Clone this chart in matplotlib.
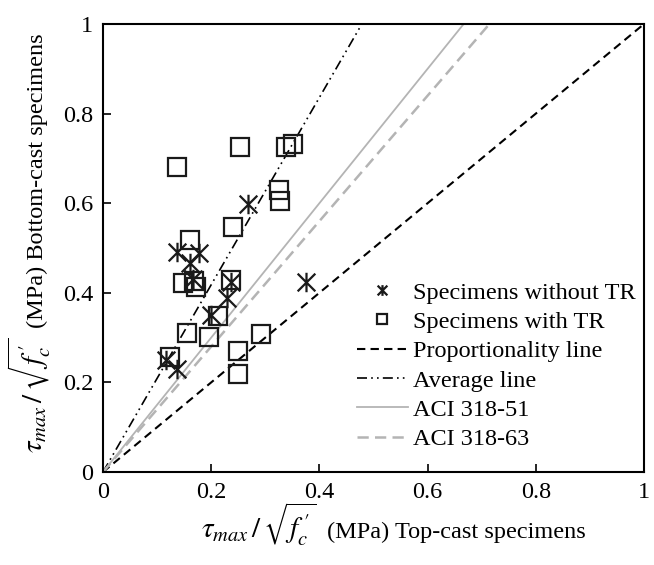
import matplotlib
matplotlib.use('Agg')
import matplotlib.pyplot as plt
from matplotlib.path import Path
import numpy as np

# --- Data ---
# specimens without transverse reinforcement (top-cast, bottom-cast)
without_tr_x = [0.268, 0.136, 0.177, 0.161, 0.166, 0.236, 0.230, 0.376, 0.200, 0.117, 0.136]
without_tr_y = [0.598, 0.491, 0.488, 0.466, 0.430, 0.424, 0.388, 0.423, 0.351, 0.250, 0.231]

# specimens with transverse reinforcement
with_tr_x = [0.137, 0.253, 0.338, 0.352, 0.325, 0.328, 0.241, 0.161, 0.148, 0.169,
             0.171, 0.237, 0.212, 0.156, 0.196, 0.292, 0.249, 0.249, 0.123]
with_tr_y = [0.681, 0.726, 0.726, 0.732, 0.629, 0.606, 0.547, 0.518, 0.421, 0.426,
             0.414, 0.428, 0.348, 0.311, 0.301, 0.308, 0.271, 0.218, 0.257]

# reference lines: bottom-cast / top-cast ratio
line_names = ['Proportionality line', 'Average line', 'ACI 318-51', 'ACI 318-63']
line_slopes = [1.0, 2.09, 1.5, 1.4]

ticks = [0, 0.2, 0.4, 0.6, 0.8, 1]
tick_labels = ['0', '0.2', '0.4', '0.6', '0.8', '1']

label_math = r'$\tau_{max}\,/\,\sqrt{f^{\,\prime}_{c}}$'
xlabel_text = '(MPa) Top-cast specimens'
ylabel_text = '(MPa) Bottom-cast specimens'

# --- Style ---
plt.rcParams['font.family'] = ['Liberation Serif', 'DejaVu Serif']
plt.rcParams['mathtext.fontset'] = 'stix'
FS = 17.5
FS_MATH = 21

line_styles = [
    dict(color='black', lw=1.5, ls=(0, (4, 2.5))),
    dict(color='black', lw=1.2, ls=(0, (6, 2.5, 1, 2.5, 1, 2.5))),
    dict(color='#b4b4b4', lw=1.3, ls='-'),
    dict(color='#b4b4b4', lw=1.8, ls=(0, (4.5, 2.5))),
]

# star marker: an X with a vertical bar
star = Path([(-1, -1), (1, 1), (-1, 1), (1, -1), (0, -1.1), (0, 1.1)],
            [Path.MOVETO, Path.LINETO] * 3)

W, H = 654, 565
fig = plt.figure(figsize=(W / 100, H / 100), dpi=100)
ax = fig.add_axes([103 / W, 1 - 472 / H, (644 - 103) / W, (472 - 24) / H])

handles = []
for name, k, st in zip(line_names, line_slopes, line_styles):
    x_end = min(1.0, 1.0 / k)
    h, = ax.plot([0, x_end], [0, k * x_end], label=name, **st)
    handles.append(h)

h_star, = ax.plot(without_tr_x, without_tr_y, ls='none', marker=star, ms=14,
                  mec='#1a1a1a', mew=1.6, mfc='none', label='Specimens without TR')
h_sq, = ax.plot(with_tr_x, with_tr_y, ls='none', marker='s', ms=13.5,
                mec='#1a1a1a', mew=1.6, mfc='none', label='Specimens with TR')

ax.set_xlim(0, 1)
ax.set_ylim(0, 1)
ax.set_xticks(ticks)
ax.set_xticklabels(tick_labels)
ax.set_yticks(ticks)
ax.set_yticklabels(tick_labels)
ax.tick_params(direction='in', length=6, width=1.2, labelsize=FS, pad=7)
for sp in ax.spines.values():
    sp.set_linewidth(1.5)

# axis labels: math part is drawn a bit larger than the plain text, as in the original
xb, xs = 538, 322   # baseline y, split x (pixels)
fig.text(xs / W - 0.008, 1 - xb / H, label_math, fontsize=FS_MATH, ha='right', va='baseline')
fig.text(xs / W + 0.008, 1 - xb / H, xlabel_text, fontsize=FS, ha='left', va='baseline')

yb, ys = 43, 333    # baseline x, split y (pixels)
fig.text(yb / W, 1 - ys / H - 0.009, label_math, fontsize=FS_MATH, rotation=90,
         rotation_mode='anchor', ha='right', va='baseline')
fig.text(yb / W, 1 - ys / H + 0.009, ylabel_text, fontsize=FS, rotation=90,
         rotation_mode='anchor', ha='left', va='baseline')

ax.legend([h_star, h_sq] + handles,
          ['Specimens without TR', 'Specimens with TR'] + line_names,
          loc='upper left', bbox_to_anchor=(0.469, 0.425), frameon=False,
          fontsize=FS, markerscale=0.55, handlelength=2.1, handletextpad=0.2,
          labelspacing=0.3, borderpad=0, borderaxespad=0)

fig.savefig('out.png', dpi=100)
